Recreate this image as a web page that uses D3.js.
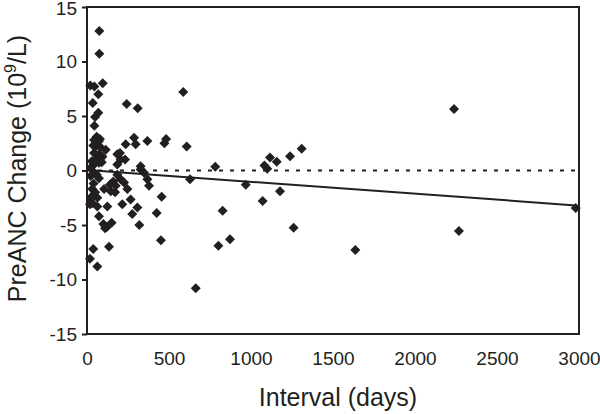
<!DOCTYPE html>
<html>
<head>
<meta charset="utf-8">
<script src="https://cdn.jsdelivr.net/npm/d3@7"></script>
<style>
  html, body { margin: 0; padding: 0; background: #fff; }
  svg { display: block; font-family: "Liberation Sans", Arial, Helvetica, sans-serif; }
</style>
</head>
<body>
<svg id="chart" width="600" height="414"></svg>
<script>
// ---- data ----
const intervalDays = [
  75, 75, 96, 20, 45, 69, 35, 69, 49, 45, 59, 43, 73, 79, 53, 84, 38, 114, 43, 73,
  93, 53, 43, 73, 90, 38, 22, 29, 59, 90,
  43, 73, 22, 32, 104, 145, 32, 63, 32, 63, 18, 124, 73, 100, 120, 150, 110, 134, 38, 18,
  63, 50, 25, 40, 60,
  242, 309, 236, 287, 297, 368, 201, 185, 205, 232, 185, 327, 175, 185, 205, 226, 327, 348, 368, 378,
  246, 215, 266, 307, 276, 319, 140, 171, 160,
  482, 472, 455, 425, 451, 587, 608, 628, 663, 782, 968, 827, 801, 872, 1071, 1082, 1099, 1116, 1157, 1177,
  1238, 1309, 1260, 1636, 2238, 2268, 2980
];
const preAncChange = [
  12.8, 10.7, 8.0, 7.8, 7.7, 7.0, 6.2, 5.3, 4.9, 4.1, 3.1, 2.8, 2.7, 2.9, 2.2, 2.1, 2.3, 1.9, 1.6, 1.5,
  1.3, 1.0, 0.55, 0.7, 1.2, 0.85, 0.25, 0.85, 1.0, 0.75,
  -0.2, -0.7, -0.5, -1.7, -1.7, -1.9, -2.35, -2.5, -3.0, -3.3, -3.1, -3.3, -4.2, -4.9, -5.2, -4.8, -5.3, -7.0, -7.2, -8.1,
  -8.8, -2.0, -2.6, -1.2, -0.4,
  6.1, 5.7, 2.4, 3.0, 2.4, 2.7, 1.6, 1.5, 1.0, 1.0, 0.55, 0.4, -1.4, -0.4, -0.8, -1.1, 0.1, -0.2, -0.8, -1.4,
  -1.7, -3.1, -2.65, -3.4, -4.0, -5.0, -1.3, -2.0, -1.0,
  2.9, 2.5, -2.4, -3.9, -6.4, 7.2, 2.2, -0.8, -10.8, 0.35, -1.3, -3.7, -6.9, -6.3, -2.8, 0.45, 0.15, 1.2, 0.8, -1.9,
  1.3, 2.0, -5.25, -7.3, 5.65, -5.55, -3.45
];
const trendX = [0, 2980];
const trendY = [0.05, -3.2];
const refX = [0, 3000];
const refY = [0, 0];
const xTicks = [0, 500, 1000, 1500, 2000, 2500, 3000];
const yTicks = [-15, -10, -5, 0, 5, 10, 15];

// ---- layout ----
const ink = "#231f20";
const svg = d3.select("#chart");
const mLeft = 87, mRight = 579, mTop = 7, mBottom = 334;

const x = d3.scaleLinear().domain([0, 3000]).range([mLeft, mRight]);
const y = d3.scaleLinear().domain([-15, 15]).range([mBottom, mTop]);

// frame
svg.append("rect")
  .attr("x", mLeft).attr("y", mTop)
  .attr("width", mRight - mLeft).attr("height", mBottom - mTop)
  .attr("fill", "none").attr("stroke", ink).attr("stroke-width", 2);

// y axis
const yAxis = svg.append("g")
  .attr("transform", `translate(${mLeft},0)`)
  .call(d3.axisLeft(y).tickValues(yTicks).tickSize(5).tickPadding(5).tickFormat(d => String(d)));
yAxis.select(".domain").remove();
yAxis.selectAll(".tick line").attr("stroke", ink).attr("stroke-width", 2);
yAxis.selectAll(".tick text")
  .attr("fill", ink).style("font-size", "19px").style("font-family", "Liberation Sans, Arial, sans-serif");
// keep the top label just inside the page
yAxis.selectAll(".tick text").filter(d => d === 15).attr("y", 1.5);

// x axis (labels only)
const xAxis = svg.append("g")
  .attr("transform", `translate(0,${mBottom})`)
  .call(d3.axisBottom(x).tickValues(xTicks).tickSize(0).tickPadding(18).tickFormat(d => String(d)));
xAxis.select(".domain").remove();
xAxis.selectAll(".tick text")
  .attr("fill", ink).style("font-size", "19px").style("font-family", "Liberation Sans, Arial, sans-serif");

// reference line at 0 (dashed)
const line = d3.line().x(d => x(d[0])).y(d => y(d[1]));
svg.append("path")
  .datum(refX.map((v, i) => [v, refY[i]]))
  .attr("d", line)
  .attr("fill", "none").attr("stroke", ink).attr("stroke-width", 2)
  .attr("stroke-dasharray", "4,7");

// trend line
svg.append("path")
  .datum(trendX.map((v, i) => [v, trendY[i]]))
  .attr("d", line)
  .attr("fill", "none").attr("stroke", ink).attr("stroke-width", 2);

// points (diamonds)
const sym = d3.symbol().type(d3.symbolSquare).size(50);
svg.append("g").selectAll("path")
  .data(intervalDays.map((v, i) => [v, preAncChange[i]]))
  .join("path")
  .attr("d", sym)
  .attr("transform", d => `translate(${x(d[0])},${y(d[1])}) rotate(45)`)
  .attr("fill", ink);

// axis titles
svg.append("text")
  .attr("x", (mLeft + mRight) / 2 + 5).attr("y", 406)
  .attr("text-anchor", "middle")
  .attr("fill", ink).style("font-size", "25px")
  .text("Interval (days)");

const yt = svg.append("text")
  .attr("transform", `translate(26,${(mTop + mBottom) / 2 - 2}) rotate(-90)`)
  .attr("text-anchor", "middle")
  .attr("fill", ink).style("font-size", "25px");
yt.append("tspan").text("PreANC Change (10");
yt.append("tspan").attr("dy", -10).style("font-size", "16px").text("9");
yt.append("tspan").attr("dy", 10).text("/L)");
</script>
</body>
</html>
